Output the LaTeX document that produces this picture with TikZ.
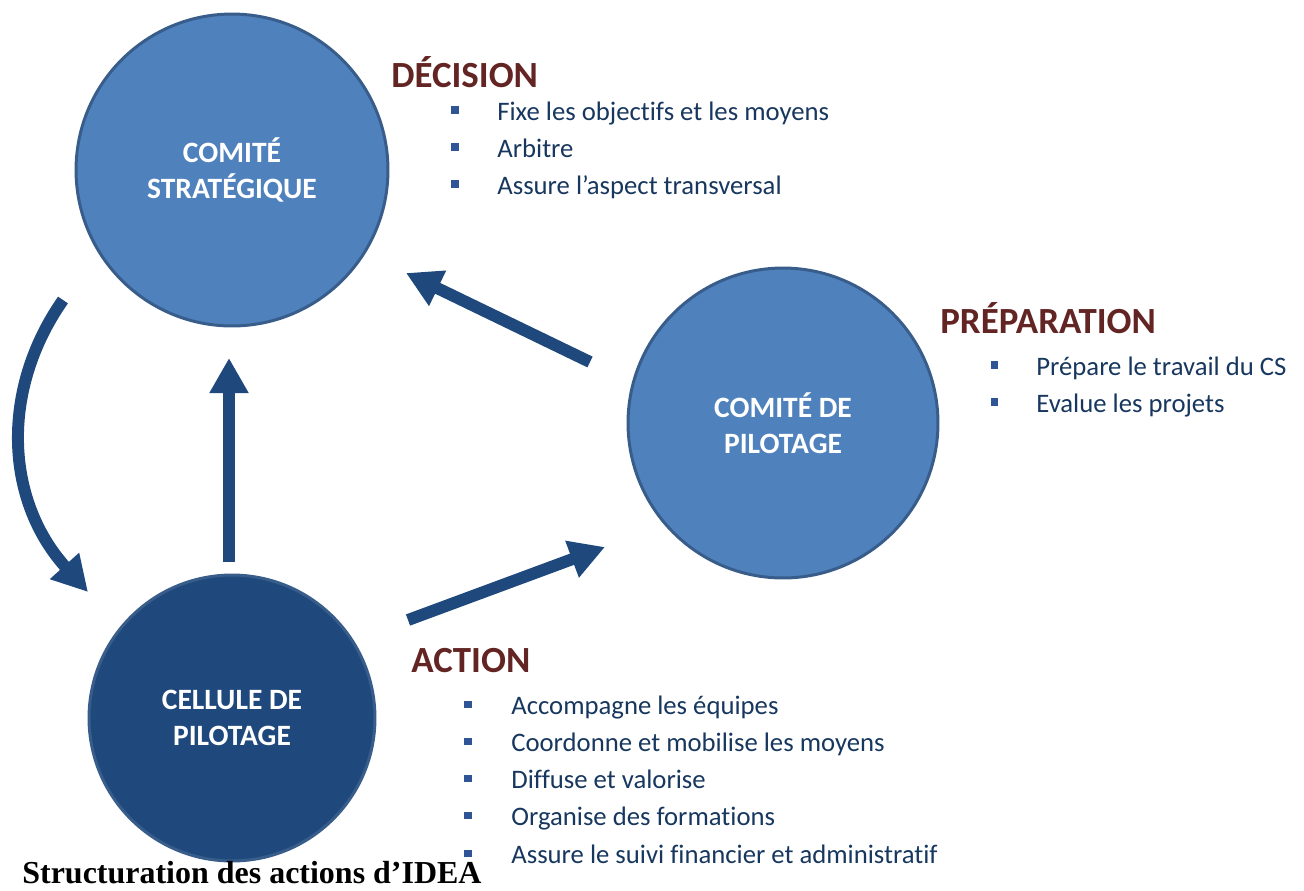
\documentclass[tikz,border=0pt]{standalone}
\usepackage{fontspec}
\setmainfont{Carlito}[Ligatures=NoCommon]
\newfontfamily\titlefont{Liberation Serif}
\usetikzlibrary{arrows.meta}
\definecolor{lightblue}{HTML}{4F81BD}
\definecolor{rimblue}{HTML}{385D8A}
\definecolor{darkblue}{HTML}{1F497D}
\definecolor{textnavy}{HTML}{17375E}
\definecolor{headred}{HTML}{632523}
\definecolor{bulletblue}{HTML}{2F5597}
\tikzset{
	comite/.style={circle, draw=rimblue, line width=1.7pt, fill=lightblue, text=white, align=center,
		font=\fontsize{16.8}{20.5}\selectfont\bfseries},
	flow/.style={draw=darkblue, line width=6.8pt, -{Triangle[width=21pt,length=20pt]}},
	heading/.style={anchor=base west, inner sep=0, text=headred, font=\fontsize{21}{25}\selectfont\bfseries},
	item/.style={anchor=base west, inner sep=0, text=textnavy, font=\fontsize{15.2}{18}\selectfont},
	puce/.style={fill=bulletblue, minimum size=4pt, inner sep=0},
}
\begin{document}
\begin{tikzpicture}[x=0.02cm, y=-0.02cm]
		\useasboundingbox (0,0) rectangle (1304,890);
		\node [comite, minimum size=6.24cm] (cs) at (232,170) {COMITÉ\\STRATÉGIQUE};
		\node [comite, minimum size=6.2cm] (copil) at (783,423) {COMITÉ DE\\PILOTAGE};
		\node [comite, minimum size=5.72cm, fill=darkblue] (cellule) at (232,718) {CELLULE DE\\PILOTAGE};
		\coordinate (arc-a) at (63,300);
		\coordinate (arc-b) at (88,592);
		\coordinate (up-a) at (229,562);
		\coordinate (up-b) at (229,358);
		\coordinate (back-a) at (590,362);
		\coordinate (back-b) at (406,273);
		\coordinate (out-a) at (408,620);
		\coordinate (out-b) at (605,547);
		\draw [flow] (arc-a) .. controls (0,390) and (5,500) .. (arc-b);
		\draw [flow] (up-a) -- (up-b);
		\draw [flow] (back-a) -- (back-b);
		\draw [flow] (out-a) -- (out-b);
		\node [heading] (decision) at (391,87) {DÉCISION};
		\foreach \txt [count=\i] in {Fixe les objectifs et les moyens, Arbitre, Assure l’aspect transversal} {
			\node [puce] (dec-p\i) at (455,{110+37*(\i-1)}) {};
			\node [item] (dec-t\i) at (497,{120+37*(\i-1)}) {\txt};
		}
		\node [heading] (preparation) at (940,333) {PRÉPARATION};
		\foreach \txt [count=\i] in {Prépare le travail du CS, Evalue les projets} {
			\node [puce] (prep-p\i) at (994,{365+37*(\i-1)}) {};
			\node [item] (prep-t\i) at (1036,{375+37*(\i-1)}) {\txt};
		}
		\node [heading] (action) at (411,672) {ACTION};
		\foreach \txt [count=\i] in {Accompagne les équipes, Coordonne et mobilise les moyens, Diffuse et valorise, Organise des formations, Assure le suivi financier et administratif} {
			\node [puce] (act-p\i) at (468,{704+37.25*(\i-1)}) {};
			\node [item] (act-t\i) at (511,{714+37.25*(\i-1)}) {\txt};
		}
		\node [anchor=base west, inner sep=0, font=\titlefont\fontsize{18.2}{22}\selectfont\bfseries] (titre) at (22,883) {Structuration des actions d’IDEA};
	\end{tikzpicture}
\end{document}
